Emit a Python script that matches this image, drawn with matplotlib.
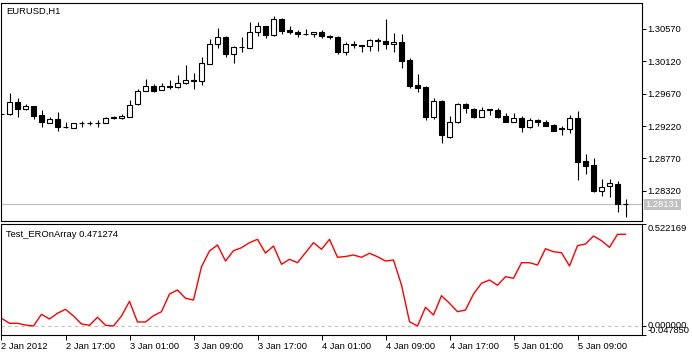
import numpy as np
import matplotlib
matplotlib.use("Agg")
import matplotlib.pyplot as plt
import matplotlib.transforms as mtrans

plt.rcParams['font.family'] = ['Liberation Sans', 'DejaVu Sans']
plt.rcParams['font.size'] = 6.75

# EURUSD H1 bars, 2 Jan 2012 09:00 onwards
opens = [1.29388, 1.29388, 1.29555, 1.29458, 1.29500, 1.29374, 1.29263, 1.29319, 1.29208, 1.29194,
         1.29270, 1.29270, 1.29270, 1.29263, 1.29347, 1.29333, 1.29347, 1.29527, 1.29708, 1.29778,
         1.29722, 1.29771, 1.29764, 1.29819, 1.29861, 1.29847, 1.30083, 1.30361, 1.30459, 1.30222,
         1.30320, 1.30306, 1.30528, 1.30612, 1.30486, 1.30709, 1.30556, 1.30528, 1.30507, 1.30500,
         1.30528, 1.30473, 1.30459, 1.30250, 1.30355, 1.30348, 1.30334, 1.30410, 1.30403, 1.30361,
         1.30389, 1.30139, 1.29791, 1.29764, 1.29347, 1.29569, 1.29069, 1.29277, 1.29527, 1.29458,
         1.29347, 1.29451, 1.29444, 1.29361, 1.29277, 1.29333, 1.29208, 1.29305, 1.29277, 1.29235,
         1.29187, 1.29180, 1.29333, 1.28735, 1.28679, 1.28318, 1.28388, 1.28415, 1.28137]
highs = [1.29402, 1.29680, 1.29611, 1.29527, 1.29500, 1.29444, 1.29347, 1.29416, 1.29277, 1.29263,
         1.29291, 1.29291, 1.29305, 1.29347, 1.29361, 1.29388, 1.29583, 1.29736, 1.29875, 1.29805,
         1.29819, 1.29861, 1.29930, 1.30069, 1.29958, 1.30181, 1.30431, 1.30584, 1.30473, 1.30334,
         1.30459, 1.30667, 1.30667, 1.30612, 1.30751, 1.30723, 1.30612, 1.30556, 1.30570, 1.30528,
         1.30556, 1.30486, 1.30473, 1.30389, 1.30403, 1.30348, 1.30431, 1.30445, 1.30709, 1.30514,
         1.30500, 1.30167, 1.29944, 1.29778, 1.29611, 1.29583, 1.29361, 1.29541, 1.29541, 1.29472,
         1.29486, 1.29458, 1.29472, 1.29402, 1.29402, 1.29361, 1.29333, 1.29319, 1.29305, 1.29249,
         1.29222, 1.29374, 1.29430, 1.28832, 1.28777, 1.28485, 1.28485, 1.28457, 1.28207]
lows = [1.29374, 1.29374, 1.29347, 1.29444, 1.29319, 1.29208, 1.29263, 1.29152, 1.29194, 1.29194,
        1.29208, 1.29235, 1.29208, 1.29263, 1.29319, 1.29319, 1.29347, 1.29513, 1.29708, 1.29694,
        1.29722, 1.29736, 1.29750, 1.29805, 1.29736, 1.29791, 1.30083, 1.30306, 1.30181, 1.30097,
        1.30250, 1.30306, 1.30473, 1.30445, 1.30473, 1.30500, 1.30500, 1.30459, 1.30486, 1.30459,
        1.30445, 1.30431, 1.30222, 1.30208, 1.30306, 1.30250, 1.30264, 1.30264, 1.30292, 1.30250,
        1.30028, 1.29750, 1.29694, 1.29305, 1.29319, 1.28985, 1.29055, 1.29263, 1.29402, 1.29333,
        1.29347, 1.29374, 1.29333, 1.29277, 1.29277, 1.29138, 1.29194, 1.29222, 1.29222, 1.29152,
        1.29096, 1.29124, 1.28471, 1.28554, 1.28304, 1.28249, 1.28235, 1.28026, 1.27957]
closes = [1.29388, 1.29555, 1.29458, 1.29500, 1.29361, 1.29277, 1.29319, 1.29208, 1.29201, 1.29263,
          1.29263, 1.29263, 1.29263, 1.29333, 1.29333, 1.29361, 1.29513, 1.29708, 1.29778, 1.29708,
          1.29778, 1.29757, 1.29819, 1.29861, 1.29847, 1.30097, 1.30361, 1.30459, 1.30222, 1.30320,
          1.30313, 1.30528, 1.30612, 1.30486, 1.30709, 1.30542, 1.30528, 1.30500, 1.30500, 1.30528,
          1.30473, 1.30452, 1.30250, 1.30361, 1.30348, 1.30327, 1.30417, 1.30396, 1.30361, 1.30389,
          1.30125, 1.29778, 1.29750, 1.29347, 1.29569, 1.29096, 1.29277, 1.29527, 1.29472, 1.29347,
          1.29444, 1.29437, 1.29347, 1.29277, 1.29333, 1.29208, 1.29305, 1.29277, 1.29222, 1.29152,
          1.29173, 1.29333, 1.28721, 1.28666, 1.28318, 1.28374, 1.28429, 1.28137, 1.28131]

# Test_EROnArray values
er = [0.0396, 0.0139, 0.0139, 0.0051, 0.0000, 0.0601, 0.0360, 0.0653, 0.0858, 0.0514,
      0.0103, 0.0036, 0.0447, 0.0036, 0.0000, 0.0514, 0.1269, 0.0206, 0.0206, 0.0529,
      0.0735, 0.1644, 0.1850, 0.1424, 0.1336, 0.3047, 0.3854, 0.4163, 0.3340, 0.3870,
      0.4024, 0.4281, 0.4456, 0.3751, 0.4111, 0.3171, 0.3428, 0.3253, 0.3767, 0.4281,
      0.3942, 0.4456, 0.3531, 0.3572, 0.3649, 0.3531, 0.3736, 0.3561, 0.3340, 0.3392,
      0.2107, 0.0221, 0.0000, 0.0961, 0.0565, 0.1557, 0.1167, 0.0735, 0.0822, 0.1644,
      0.2194, 0.2364, 0.2092, 0.2534, 0.2451, 0.3253, 0.3253, 0.3135, 0.3972, 0.3818,
      0.3767, 0.3083, 0.4127, 0.4214, 0.4625, 0.4384, 0.4044, 0.4713, 0.471274]

price_ticks = [1.30570, 1.30120, 1.29670, 1.29220, 1.28770, 1.28320]
er_ticks = [0.522169, 0.0, -0.047850]
time_ticks = [0, 8, 16, 24, 32, 40, 48, 56, 64, 72]
time_labels = ['2 Jan 2012', '2 Jan 17:00', '3 Jan 01:00', '3 Jan 09:00', '3 Jan 17:00',
               '4 Jan 01:00', '4 Jan 09:00', '4 Jan 17:00', '5 Jan 01:00', '5 Jan 09:00']
last_price = 1.28131

W, H = 692, 352
fig = plt.figure(figsize=(W / 100, H / 100), dpi=100)
ax1 = fig.add_axes([1.5 / W, 1 - 221 / H, 640 / W, 218 / H])
ax2 = fig.add_axes([1.5 / W, 1 - 335.3 / H, 640 / W, 110.9 / H])

x = np.arange(len(opens))
o = np.array(opens)
c = np.array(closes)
up = c >= o

# candles
ax1.vlines(x, lows, highs, color='black', lw=0.8, zorder=2)
ax1.bar(x[up], (c - o)[up], bottom=o[up], width=0.55, color='white',
        edgecolor='black', linewidth=0.8, zorder=3)
ax1.bar(x[~up], (c - o)[~up], bottom=o[~up], width=0.55, color='black',
        edgecolor='black', linewidth=0.8, zorder=3)
ax1.axhline(last_price, color='#c0c0c0', lw=0.9, zorder=1)

ax1.set_xlim(0, 80)
ax1.set_ylim(1.27901, 1.30931)
ax1.set_xticks([])
ax1.yaxis.tick_right()
ax1.set_yticks(price_ticks)
ax1.set_yticklabels(['%.5f' % v for v in price_ticks])
ax1.tick_params(axis='y', length=3, width=0.7, pad=1.5, colors='black')
ax1.text(5 / 640, 1 - 8 / 218, 'EURUSD,H1', transform=ax1.transAxes, va='center', ha='left')
tr = mtrans.blended_transform_factory(ax1.transAxes, ax1.transData)
ax1.text(1.006, last_price, '%.5f' % last_price, transform=tr, va='center', ha='left',
         color='white', bbox=dict(boxstyle='square,pad=0.15', fc='#c0c0c0', ec='none'))

# indicator
ax2.plot(x, er, color='red', lw=1.0)
ax2.axhline(0, color='#c0c0c0', lw=0.8, ls=(0, (3, 3)), zorder=0)
ax2.set_xlim(0, 80)
ax2.set_ylim(-0.047850, 0.522169)
ax2.yaxis.tick_right()
ax2.set_yticks(er_ticks)
ax2.set_yticklabels(['%.6f' % v for v in er_ticks])
ax2.tick_params(axis='y', length=3, width=0.7, pad=1.5)
for lab, va in zip(ax2.get_yticklabels(), ['top', 'center', 'bottom']):
    lab.set_va(va)
ax2.set_xticks(time_ticks)
ax2.set_xticklabels(time_labels, ha='left')
ax2.tick_params(axis='x', length=3.5, width=0.7, pad=1.5)
ax2.text(5 / 640, 1 - 10 / 111, 'Test_EROnArray %.6f' % er[-1], transform=ax2.transAxes,
         va='center', ha='left')

for ax in (ax1, ax2):
    for s in ax.spines.values():
        s.set_linewidth(0.8)

fig.savefig('out.png', dpi=100)
